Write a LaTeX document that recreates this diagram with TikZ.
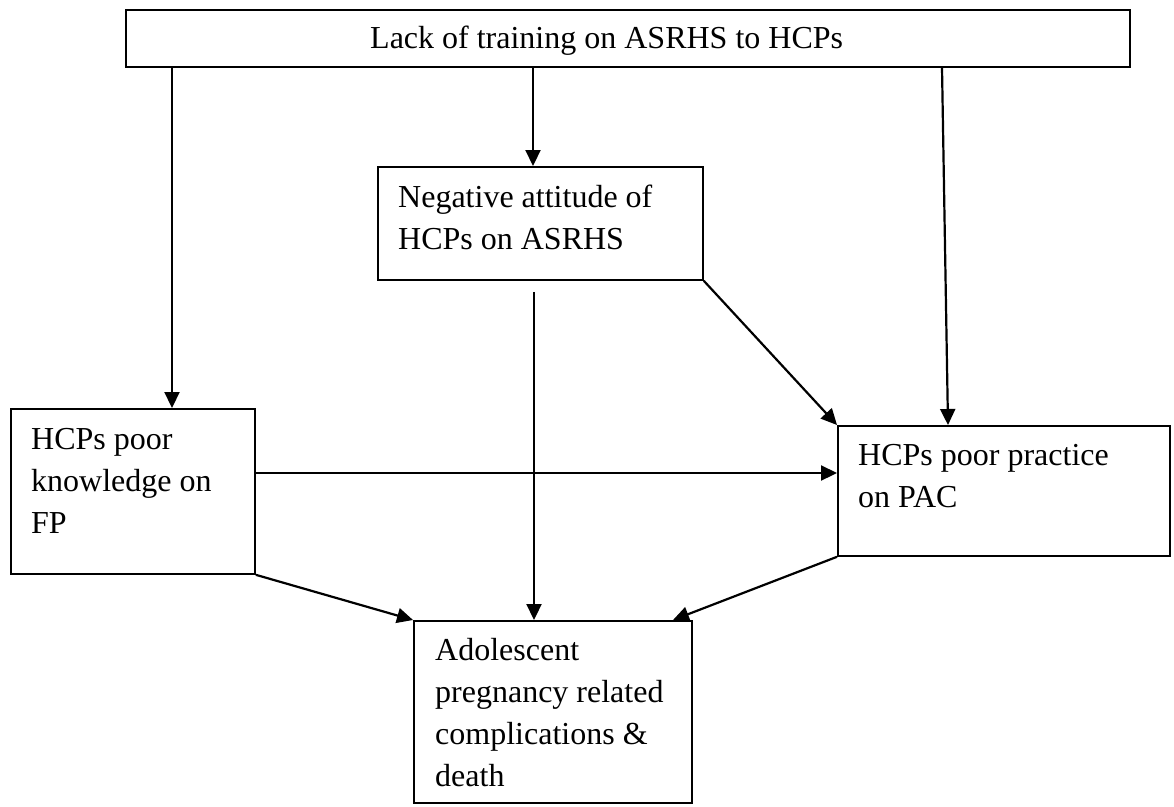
\documentclass[tikz,border=0pt]{standalone}
\usepackage{fontspec}
\setmainfont{Liberation Serif}
\usetikzlibrary{arrows.meta,calc}
\begin{document}
\begin{tikzpicture}[x=1pt,y=-1pt,
  box/.style={draw, line width=1.8pt, inner sep=0pt, anchor=north west},
  lbl/.style={anchor=base west, inner sep=0pt, align=left, font=\fontsize{32}{42}\selectfont},
  arr/.style={line width=2.2pt, -{Triangle[length=16pt,width=15pt]}}]
\useasboundingbox (0,0) rectangle (1174,806);
% boxes
\node[box, minimum width=1004pt, minimum height=57pt] (top) at (125,9) {};
\node[box, minimum width=325pt, minimum height=113pt] (mid) at (377,166) {};
\node[box, minimum width=244pt, minimum height=165pt] (lb) at (10,408) {};
\node[box, minimum width=332pt, minimum height=130pt] (rb) at (837,425) {};
\node[box, minimum width=278pt, minimum height=182pt] (bt) at (413,620) {};
% texts (anchored at the baseline of their last line)
\node[lbl] (ttop) at (370,48) {Lack of training on ASRHS to HCPs};
\node[lbl] (tmid) at (398,249) {Negative attitude of\\HCPs on ASRHS};
\node[lbl] (tlb) at (31,533) {HCPs poor\\knowledge on\\FP};
\node[lbl] (trb) at (858,507) {HCPs poor practice\\on PAC};
\node[lbl] (tbt) at (435,786) {Adolescent\\pregnancy related\\complications \&\\death};
% connector coordinates
\coordinate (a1) at ($(lb.north west)+(162,0)$);
\coordinate (a2) at ($(mid.north west)+(156,0)$);
\coordinate (s3) at ($(top.south west)+(817,0)$);
\coordinate (a3) at ($(rb.north west)+(111,0)$);
\coordinate (a4) at ($(bt.north west)+(121,0)$);
\coordinate (m4) at (a4 |- mid.south);
\coordinate (s4) at ($(m4)+(0,11)$);
\coordinate (a6) at ($(lb.north east)+(0,65)$);
\coordinate (a8) at ($(bt.north west)+(260,0)$);
% connectors
\draw[arr] (a1 |- top.south) -- (a1);
\draw[arr] (a2 |- top.south) -- (a2);
\draw[arr] (s3) -- (a3);
\draw[arr] (s4) -- (a4);
\draw[arr] (mid.south east) -- (rb.north west);
\draw[arr] (a6) -- (a6 -| rb.west);
\draw[arr] (lb.south east) -- (bt.north west);
\draw[arr] (rb.south west) -- (a8);
\end{tikzpicture}
\end{document}
